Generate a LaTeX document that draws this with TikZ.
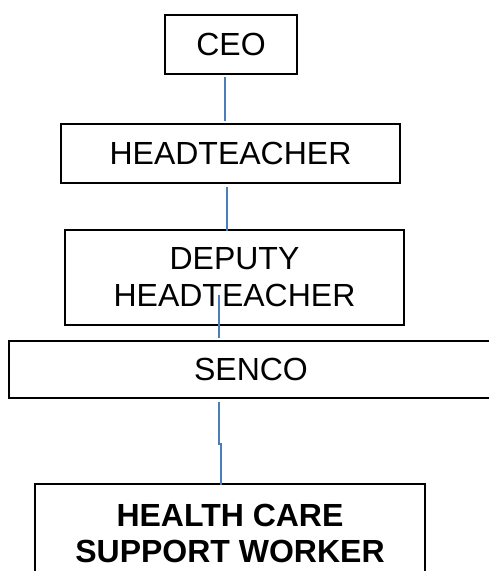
\documentclass[tikz,border=0pt]{standalone}
\usepackage{fontspec}
\setmainfont{Liberation Sans}
\usepackage{tikz}
\usetikzlibrary{positioning}
\definecolor{link}{HTML}{4A7EBB}
\tikzset{
    %Define style for boxes
    post/.style={
           rectangle,
           draw=black, line width=1.6pt,
           inner sep=0pt,
           font=\fontsize{32}{37}\selectfont,
           align=center,
           minimum height=59pt},
    % Define connector style
    tie/.style={
           draw=link,
           line width=1.5pt}
}
\begin{document}
\begin{tikzpicture}[x=1pt,y=-1pt]
\useasboundingbox (0,0) rectangle (489,571);
\node[post, minimum width=132pt](CEO) at (231,44.5){CEO};
\node[post, minimum width=339pt](Head) at (230.5,153.5){HEADTEACHER};
\node[post, minimum width=339pt, minimum height=95pt](Deputy) at (234.5,277.5){DEPUTY\\HEADTEACHER};
\node[post, minimum width=484pt, minimum height=57pt](Senco) at (251,369.5){SENCO};
\node[post, minimum width=390pt, minimum height=98pt, font=\fontsize{32}{36}\selectfont\bfseries](Worker) at (230,533){HEALTH CARE\\SUPPORT WORKER};
% connector ends
\coordinate (a) at (225,77);
\coordinate (b) at (225,121);
\coordinate (c) at (227,187);
\coordinate (d) at (227,231);
\coordinate (e) at (219,295);
\coordinate (f) at (219,338);
\coordinate (g) at (219,402);
\coordinate (h) at (221,444);
\coordinate (i) at (221,485);
\path[tie]
	(a) edge (b)
	(c) edge (d)
	(e) edge (f);
\draw[tie] (g) |- (h) -- (i);
\end{tikzpicture}
\end{document}
